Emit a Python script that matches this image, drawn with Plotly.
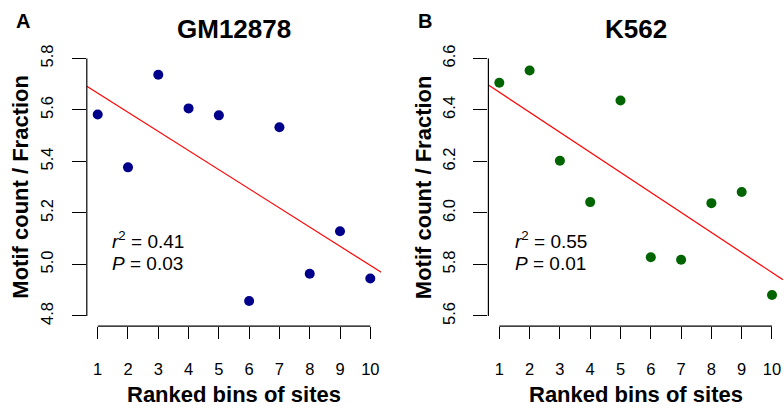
import numpy as np
import plotly.graph_objects as go

# ---- data ----
bins = [1, 2, 3, 4, 5, 6, 7, 8, 9, 10]
gm12878 = [5.582, 5.377, 5.737, 5.606, 5.579, 4.858, 5.533, 4.964, 5.129, 4.945]
k562 = [6.506, 6.553, 6.203, 6.042, 6.437, 5.828, 5.818, 6.038, 6.081, 5.681]
yticks_a = [4.8, 5.0, 5.2, 5.4, 5.6, 5.8]
yticks_b = [5.6, 5.8, 6.0, 6.2, 6.4, 6.6]
stats_a = ("0.41", "0.03")
stats_b = ("0.55", "0.01")
titles = ("GM12878", "K562")
letters = ("A", "B")

W, H = 784, 408
FONT = "Liberation Sans, Arial, Helvetica, sans-serif"


def px(x):
    return x / W


def py(y):
    return 1 - y / H


def ext(lo, hi):
    d = (hi - lo) * 0.04
    return [lo - d, hi + d]


xr = ext(min(bins), max(bins))
yra = ext(min(yticks_a), max(yticks_a))
yrb = ext(min(yticks_b), max(yticks_b))

fig = go.Figure()

panels = [
    ("x", "y", gm12878, "#00008B", yra, yticks_a),
    ("x2", "y2", k562, "#006400", yrb, yticks_b),
]

for xa, ya, vals, col, yr, yt in panels:
    fig.add_trace(go.Scatter(x=bins, y=vals, mode="markers", xaxis=xa, yaxis=ya,
                             marker=dict(size=10, color=col), showlegend=False,
                             hoverinfo="skip"))
    slope, icpt = np.polyfit(bins, vals, 1)
    lx = np.array(xr)
    fig.add_trace(go.Scatter(x=lx, y=slope * lx + icpt, mode="lines", xaxis=xa, yaxis=ya,
                             line=dict(color="red", width=1.2), showlegend=False,
                             hoverinfo="skip"))
    # R-style axis lines spanning only the tick range
    fig.add_shape(type="line", xref=xa, yref=ya + " domain", x0=min(bins), x1=max(bins),
                  y0=0, y1=0, line=dict(color="black", width=1.2))
    fig.add_shape(type="line", xref=xa + " domain", yref=ya, x0=0, x1=0,
                  y0=min(yt), y1=max(yt), line=dict(color="black", width=1.2))

ydom = [py(325.4), py(44.6)]
xdom_a = [px(86.8), px(381.2)]
xdom_b = [px(488.4), px(782.9)]

xcommon = dict(range=xr, tickmode="array", tickvals=bins, ticktext=[str(b) for b in bins],
               ticks="outside", ticklen=12, tickwidth=1.2, tickcolor="black",
               showline=False, showgrid=False, zeroline=False,
               tickfont=dict(family=FONT, size=16.5, color="black"),
               ticklabelstandoff=16)
ycommon = dict(ticks="outside", ticklen=14, tickwidth=1.2, tickcolor="black",
               showline=False, showgrid=False, zeroline=False, tickangle=-90,
               tickfont=dict(family=FONT, size=16.5, color="black"),
               ticklabelstandoff=12)

fig.update_layout(
    width=W, height=H,
    margin=dict(l=0, r=0, t=0, b=0),
    paper_bgcolor="white", plot_bgcolor="white",
    xaxis=dict(domain=xdom_a, anchor="y", **xcommon),
    xaxis2=dict(domain=xdom_b, anchor="y2", **xcommon),
    yaxis=dict(domain=ydom, anchor="x", range=yra, tickvals=yticks_a,
               ticktext=[f"{v:.1f}" for v in yticks_a], **ycommon),
    yaxis2=dict(domain=ydom, anchor="x2", range=yrb, tickvals=yticks_b,
                ticktext=[f"{v:.1f}" for v in yticks_b], **ycommon),
)

ann = []
centers = [(234, 20.5), (636, 423)]
lefts = [110, 513]
for i, (cx, ytx) in enumerate(centers):
    ann.append(dict(text=f"<b>{titles[i]}</b>", x=px(cx), y=py(25), xref="paper", yref="paper",
                    xanchor="center", yanchor="middle", showarrow=False,
                    font=dict(family=FONT, size=26, color="black")))
    ann.append(dict(text="<b>Ranked bins of sites</b>", x=px(cx), y=py(394), xref="paper",
                    yref="paper", xanchor="center", yanchor="middle", showarrow=False,
                    font=dict(family=FONT, size=22, color="black")))
    ann.append(dict(text="<b>Motif count / Fraction</b>", x=px(ytx), y=py(185), xref="paper",
                    yref="paper", xanchor="center", yanchor="middle", textangle=-90,
                    showarrow=False, font=dict(family=FONT, size=22, color="black")))
    st = stats_a if i == 0 else stats_b
    ann.append(dict(text=f"<i>r</i><sup>2</sup> = {st[0]}", x=px(lefts[i]), y=py(238),
                    xref="paper", yref="paper", xanchor="left", yanchor="middle",
                    showarrow=False, font=dict(family=FONT, size=19, color="black")))
    ann.append(dict(text=f"<i>P</i> = {st[1]}", x=px(lefts[i]), y=py(262),
                    xref="paper", yref="paper", xanchor="left", yanchor="middle",
                    showarrow=False, font=dict(family=FONT, size=19, color="black")))

ann.append(dict(text="<b>A</b>", x=px(22.5), y=py(17), xref="paper", yref="paper",
                xanchor="center", yanchor="middle", showarrow=False,
                font=dict(family=FONT, size=20, color="black")))
ann.append(dict(text="<b>B</b>", x=px(424.5), y=py(17), xref="paper", yref="paper",
                xanchor="center", yanchor="middle", showarrow=False,
                font=dict(family=FONT, size=20, color="black")))
fig.update_layout(annotations=ann)

fig.write_html("out.html", config={"displayModeBar": False},
               post_script="document.body.style.margin='0px';document.body.style.overflow='hidden';")
